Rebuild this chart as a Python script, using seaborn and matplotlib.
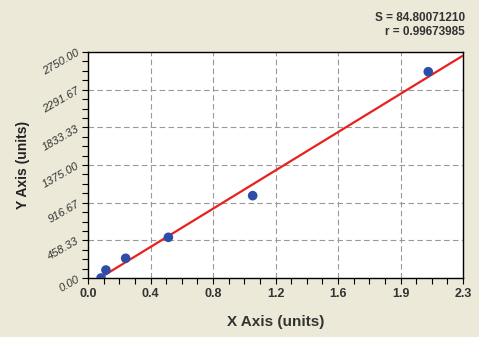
import numpy as np
import pandas as pd
import matplotlib
matplotlib.use("Agg")
import matplotlib.pyplot as plt
import seaborn as sns
from matplotlib.ticker import AutoMinorLocator

# data
x_vals = [0.080, 0.110, 0.231, 0.493, 1.010, 2.087]
y_vals = [0, 97, 240, 495, 1002, 2510]
x_tick_pos = [0, 2.3/6, 2*2.3/6, 3*2.3/6, 4*2.3/6, 5*2.3/6, 2.3]
x_tick_labels = ["0.0", "0.4", "0.8", "1.2", "1.6", "1.9", "2.3"]
y_tick_pos = [0, 458.33, 916.67, 1375.0, 1833.33, 2291.67, 2750.0]
y_tick_labels = ["0.00", "458.33", "916.67", "1375.00", "1833.33", "2291.67", "2750.00"]
fit_range = [0.065, 2.3]
stats_text = ["S = 84.80071210", "r = 0.99673985"]

sns.set_theme(style="white")
plt.rcParams['font.family'] = ['Liberation Sans', 'DejaVu Sans']

bg = "#ECE9D8"
fig = plt.figure(figsize=(4.79, 3.37), dpi=100, facecolor=bg)
ax = fig.add_axes([88/479, 59/337, 375/479, 226/337])
ax.set_facecolor("white")

df = pd.DataFrame({"x": x_vals, "y": y_vals})
m, b = np.polyfit(df["x"], df["y"], 1)
fx = np.array(fit_range)
line_df = pd.DataFrame({"x": fx, "y": m * fx + b})

sns.lineplot(data=line_df, x="x", y="y", ax=ax, color="#E8201E", lw=1.6, zorder=3)
sns.scatterplot(data=df, x="x", y="y", ax=ax, color="#2D4EA6", s=48, edgecolor="none", zorder=4)

ax.set_xlim(0, 2.3)
ax.set_ylim(0, 2750)
ax.set_xticks(x_tick_pos)
ax.set_xticklabels(x_tick_labels, fontsize=9, fontweight="bold", color="#333333")
ax.set_yticks(y_tick_pos)
ax.set_yticklabels(y_tick_labels, fontsize=8, style="italic", color="#333333", rotation=30)
ax.xaxis.set_minor_locator(AutoMinorLocator(4))
ax.yaxis.set_minor_locator(AutoMinorLocator(4))
ax.tick_params(axis="both", which="both", direction="out", length=4, width=0.8, color="black",
               bottom=True, left=True)
ax.tick_params(axis="x", pad=3)
ax.tick_params(axis="y", pad=1)

ax.grid(True, which="major", color="#999999", linestyle=(0, (5, 3)), lw=0.8)
for s in ax.spines.values():
    s.set_color("black")
    s.set_linewidth(1.0)

ax.set_xlabel("X Axis (units)", fontsize=11, fontweight="bold", color="#333333", labelpad=11)
ax.set_ylabel("Y Axis (units)", fontsize=10, fontweight="bold", color="#222222", labelpad=8)

fig.text(465/479, 1 - 18/337, stats_text[0], ha="right", va="center",
         fontsize=8.5, fontweight="bold", color="#333333")
fig.text(465/479, 1 - 32/337, stats_text[1], ha="right", va="center",
         fontsize=8.5, fontweight="bold", color="#333333")

fig.savefig("out.png", dpi=100, facecolor=bg)
